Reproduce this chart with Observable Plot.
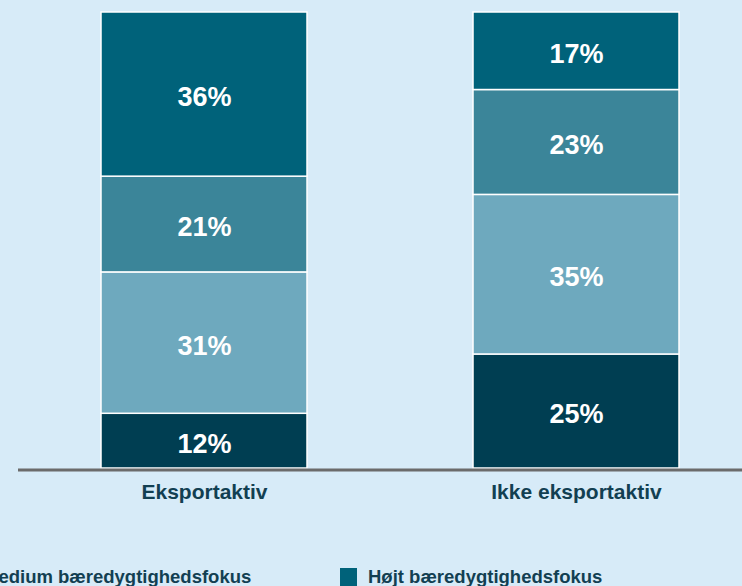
<!DOCTYPE html>
<html>
<head>
<meta charset="utf-8">
<script src="https://cdn.jsdelivr.net/npm/d3@7"></script>
<script src="https://cdn.jsdelivr.net/npm/@observablehq/plot@0.6"></script>
<style>
  html, body { margin: 0; padding: 0; background: #d7ebf8; overflow: hidden; width: 742px; height: 586px; }
  body { font-family: "Liberation Sans", Arial, sans-serif; }
  #legend { display: flex; margin-left: -809px; margin-top: 48px; white-space: nowrap; }
  .item { width: 382px; flex: 0 0 382px; display: flex; align-items: center; }
  .item.last { margin-left: 3px; }
  .sw { width: 17px; height: 18px; margin-right: 11px; flex: 0 0 17px; }
  .lab { font-weight: bold; font-size: 18.5px; color: #123f52; line-height: 18px; }
</style>
</head>
<body>
<div id="chart"></div>
<div id="legend"></div>
<script>
const categories = ["Eksportaktiv", "Ikke eksportaktiv"];
const levels = ["Intet bæredygtighedsfokus", "Lavt bæredygtighedsfokus", "Medium bæredygtighedsfokus", "Højt bæredygtighedsfokus"];
const colors = ["#003e52", "#6ea9be", "#3b8599", "#00627a"];
const exportValues = [12, 31, 21, 36];
const nonExportValues = [25, 35, 23, 17];

const data = [];
levels.forEach((lv, i) => {
  data.push({cat: categories[0], level: lv, value: exportValues[i]});
  data.push({cat: categories[1], level: lv, value: nonExportValues[i]});
});

const chart = Plot.plot({
  width: 742,
  height: 520,
  marginLeft: 18,
  marginRight: 0,
  marginTop: 12,
  marginBottom: 52,
  style: {background: "transparent", fontFamily: "'Liberation Sans', Arial, sans-serif"},
  x: {domain: categories, range: [18, 762.5], paddingInner: 0.447, paddingOuter: 0.2228},
  y: {domain: [0, 100], range: [468, 12], axis: null},
  color: {domain: levels, range: colors},
  marks: [
    Plot.barY(data, Plot.stackY({x: "cat", y: "value", fill: "level", order: levels, stroke: "#ffffff", strokeWidth: 1.5})),
    Plot.text(data, Plot.stackY({x: "cat", y: "value", z: "level", order: levels, text: d => d.value + "%", fill: "white", fontSize: 27, fontWeight: "bold", dy: 3})),
    Plot.ruleY([0], {stroke: "#6b6b6b", strokeWidth: 3, dy: 1.5}),
    Plot.axisX({tickSize: 0, tickPadding: 16, fontSize: 21, fontWeight: "bold", fill: "#123f52", label: null})
  ]
});
document.getElementById("chart").appendChild(chart);

const legend = document.getElementById("legend");
levels.forEach((lv, i) => {
  const item = document.createElement("div");
  item.className = "item" + (i === levels.length - 1 ? " last" : "");
  const sw = document.createElement("div");
  sw.className = "sw";
  sw.style.background = colors[i];
  const lab = document.createElement("span");
  lab.className = "lab";
  lab.textContent = lv;
  item.appendChild(sw);
  item.appendChild(lab);
  legend.appendChild(item);
});
</script>
</body>
</html>
